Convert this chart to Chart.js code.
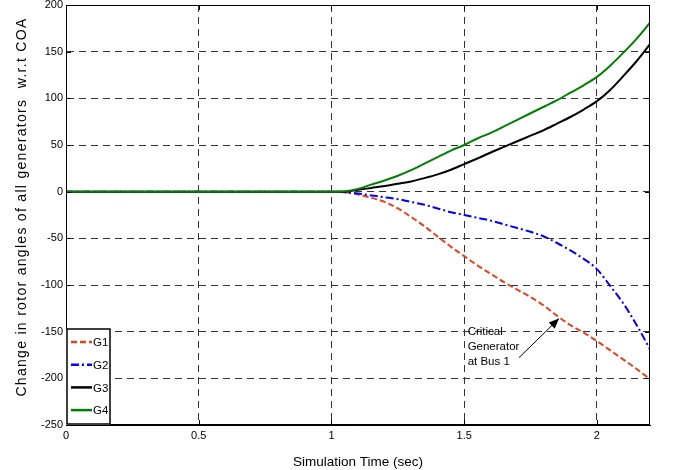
<!DOCTYPE html>
<html>
<head>
<meta charset="utf-8">
<script src="https://cdn.jsdelivr.net/npm/chart.js@4/dist/chart.umd.min.js"></script>
<style>
  html, body { margin: 0; padding: 0; background: #fff; }
  #wrap { width: 674px; height: 470px; }
</style>
</head>
<body>
<div id="wrap"><canvas id="chart"></canvas></div>
<script>
// ── Data ───────────────────────────────────────────────────────────
const times = [0, 1.0, 1.05, 1.1, 1.15, 1.2, 1.25, 1.3, 1.35, 1.4, 1.45, 1.5, 1.55,
  1.6, 1.65, 1.7, 1.75, 1.8, 1.85, 1.9, 1.95, 2.0, 2.05, 2.1, 2.15, 2.2];

const g1 = [0, 0, -0.5, -3, -6.5, -11, -18, -27, -37, -48, -59, -69, -79,
  -88, -97, -105, -113, -122, -133, -143, -151, -160, -170, -180, -190, -201];
const g2 = [0, 0, -0.5, -2, -4, -6, -8, -11, -14, -18, -22, -25, -28,
  -31, -35, -39, -43, -48, -55, -63, -72, -83, -101, -120, -143, -169];
const g3 = [0, 0, 0, 2, 4, 6, 8.5, 11, 14.5, 18.5, 23.5, 29.5, 35.5,
  42, 48, 54, 60, 66, 73, 80, 88, 97, 109, 124, 140, 158];
const g4 = [0, 0, 0.5, 3, 7.5, 12, 17, 23, 30, 37, 44, 50, 57,
  63, 70, 77, 84, 91, 98, 106, 114, 123, 135, 149, 164, 181];

const seriesNames = ['G1', 'G2', 'G3', 'G4'];

const xTitle = 'Simulation Time (sec)';
const yTitle = 'Change in rotor angles of all generators  w.r.t COA';

// annotation: label lines and arrow (data coordinates)
const noteLines = ['Critical', 'Generator', 'at Bus 1'];
const noteAt = { x: 1.513, y: -150 };
const arrowFrom = { x: 1.706, y: -178 };
const arrowTo = { x: 1.857, y: -136 };

const FONT = '"Liberation Sans", Arial, sans-serif';

function pts(ys) {
  return ys.map(function (y, i) { return { x: times[i], y: y }; });
}

// ── Styles ─────────────────────────────────────────────────────────
const styles = [
  { color: '#e8411e', dash: [6, 3] },
  { color: '#0000ff', dash: [8, 3, 2, 3] },
  { color: '#000000', dash: [] },
  { color: '#008000', dash: [] },
];

const datasets = [g1, g2, g3, g4].map(function (ys, i) {
  return {
    label: seriesNames[i],
    data: pts(ys),
    borderColor: styles[i].color,
    borderDash: styles[i].dash,
    borderWidth: 2,
    pointRadius: 0,
    cubicInterpolationMode: 'monotone',
    fill: false,
    order: 4 - i,
  };
});

// ── Frame, ticks, y title, legend box and annotation ───────────────
const matlabDecor = {
  id: 'matlabDecor',
  afterDraw: function (chart) {
    const ctx = chart.ctx;
    const a = chart.chartArea;
    const xs = chart.scales.x;
    const ys = chart.scales.y;

    ctx.save();
    // box
    ctx.strokeStyle = '#000';
    ctx.lineWidth = 1;
    ctx.setLineDash([]);
    ctx.strokeRect(a.left + 0.5, a.top + 0.5, a.right - a.left - 1, a.bottom - a.top - 1);

    // inward ticks
    ctx.beginPath();
    xs.ticks.forEach(function (t) {
      const px = Math.round(xs.getPixelForValue(t.value)) + 0.5;
      ctx.moveTo(px, a.bottom); ctx.lineTo(px, a.bottom - 5);
      ctx.moveTo(px, a.top); ctx.lineTo(px, a.top + 5);
    });
    ys.ticks.forEach(function (t) {
      const py = Math.round(ys.getPixelForValue(t.value)) + 0.5;
      ctx.moveTo(a.left, py); ctx.lineTo(a.left + 5, py);
      ctx.moveTo(a.right, py); ctx.lineTo(a.right - 5, py);
    });
    ctx.stroke();

    // y title (spaced letters, like the original)
    ctx.save();
    ctx.translate(22, 207);
    ctx.rotate(-Math.PI / 2);
    ctx.font = '14px ' + FONT;
    if ('letterSpacing' in ctx) ctx.letterSpacing = '1.3px';
    ctx.fillStyle = '#000';
    ctx.textAlign = 'center';
    ctx.textBaseline = 'middle';
    ctx.fillText(yTitle, 0, 0);
    ctx.restore();

    // legend box, bottom-left
    const lx = a.left, lw = 44, lh = 96;
    const ly = a.bottom - lh;
    ctx.fillStyle = '#fff';
    ctx.fillRect(lx, ly, lw, lh);
    ctx.strokeStyle = '#000';
    ctx.lineWidth = 1.5;
    ctx.strokeRect(lx + 1, ly, lw - 1, lh - 1);
    ctx.font = '11.5px ' + FONT;
    ctx.textBaseline = 'middle';
    ctx.textAlign = 'left';
    seriesNames.forEach(function (name, i) {
      const y = ly + 13 + i * 22.7;
      ctx.strokeStyle = styles[i].color;
      ctx.setLineDash(styles[i].dash);
      ctx.lineWidth = 2.5;
      ctx.beginPath();
      ctx.moveTo(lx + 5, y); ctx.lineTo(lx + 26, y);
      ctx.stroke();
      ctx.fillStyle = '#000';
      ctx.fillText(name, lx + 27, y + 1);
    });
    ctx.setLineDash([]);

    // annotation text
    ctx.font = '11.5px ' + FONT;
    const tx = xs.getPixelForValue(noteAt.x);
    const ty = ys.getPixelForValue(noteAt.y);
    noteLines.forEach(function (line, i) {
      ctx.fillText(line, tx, ty + i * 15.3);
    });

    // arrow
    const x1 = xs.getPixelForValue(arrowFrom.x), y1 = ys.getPixelForValue(arrowFrom.y);
    const x2 = xs.getPixelForValue(arrowTo.x), y2 = ys.getPixelForValue(arrowTo.y);
    ctx.strokeStyle = '#000';
    ctx.lineWidth = 1;
    ctx.beginPath();
    ctx.moveTo(x1, y1); ctx.lineTo(x2, y2);
    ctx.stroke();
    const ang = Math.atan2(y2 - y1, x2 - x1);
    ctx.fillStyle = '#000';
    ctx.beginPath();
    ctx.moveTo(x2, y2);
    ctx.lineTo(x2 - 11 * Math.cos(ang - 0.4), y2 - 11 * Math.sin(ang - 0.4));
    ctx.lineTo(x2 - 11 * Math.cos(ang + 0.4), y2 - 11 * Math.sin(ang + 0.4));
    ctx.closePath();
    ctx.fill();
    ctx.restore();
  },
};

// ── Chart ──────────────────────────────────────────────────────────
new Chart(document.getElementById('chart'), {
  type: 'line',
  data: { datasets: datasets },
  options: {
    responsive: true,
    maintainAspectRatio: false,
    animation: false,
    layout: { padding: { top: 5, right: 24, left: 0, bottom: 0 } },
    plugins: { legend: { display: false }, tooltip: { enabled: false } },
    scales: {
      x: {
        type: 'linear',
        min: 0,
        max: 2.2,
        afterFit: function (s) {
          s.height = 45;
          s.paddingLeft = 0;
          s.paddingRight = 0;
        },
        ticks: {
          stepSize: 0.5,
          includeBounds: false,
          color: '#000',
          padding: 4,
          maxRotation: 0,
          font: { family: FONT, size: 11 },
          callback: function (v) { return String(v); },
        },
        grid: { color: '#333', lineWidth: 1, drawTicks: false },
        border: { display: true, color: '#000', width: 1, dash: [7, 5] },
        title: {
          display: true,
          text: xTitle,
          color: '#000',
          font: { family: FONT, size: 13.5 },
          padding: { top: 6, bottom: 0 },
        },
      },
      y: {
        min: -250,
        max: 200,
        afterFit: function (s) {
          s.width = 66;
          s.paddingTop = 0;
          s.paddingBottom = 0;
        },
        ticks: {
          stepSize: 50,
          color: '#000',
          padding: 3,
          font: { family: FONT, size: 11 },
        },
        grid: { color: '#333', lineWidth: 1, drawTicks: false },
        border: { display: true, color: '#000', width: 1, dash: [7, 5] },
      },
    },
  },
  plugins: [matlabDecor],
});
</script>
</body>
</html>
